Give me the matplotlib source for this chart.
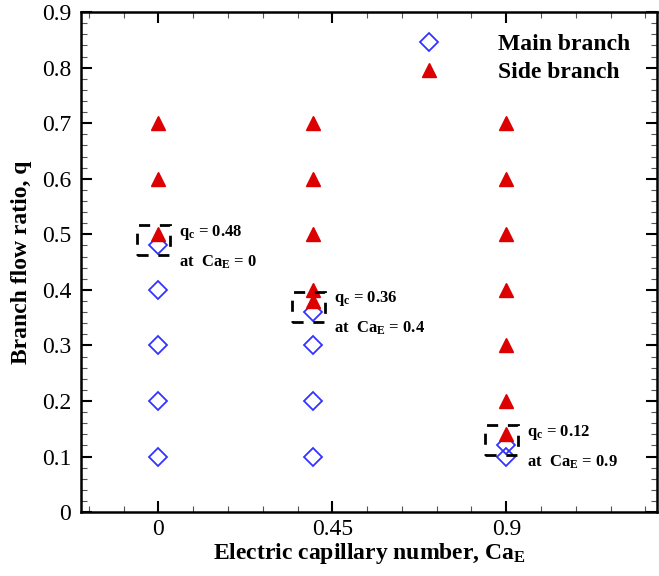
import matplotlib
matplotlib.use("Agg")
import matplotlib.pyplot as plt
from matplotlib.patches import Rectangle
from matplotlib.ticker import MultipleLocator

plt.rcParams["font.family"] = ["Liberation Serif", "DejaVu Serif"]
plt.rcParams["mathtext.fontset"] = "custom"
plt.rcParams["mathtext.rm"] = "Liberation Serif"
plt.rcParams["mathtext.bf"] = "Liberation Serif:bold"
plt.rcParams["mathtext.default"] = "bf"

# main branch (open diamonds)
main_x = [0, 0, 0, 0, 0, 0.4, 0.4, 0.4, 0.4, 0.9, 0.9]
main_q = [0.1, 0.2, 0.3, 0.4, 0.48, 0.1, 0.2, 0.3, 0.36, 0.1, 0.12]

# side branch (filled triangles)
side_x = [0, 0, 0, 0.4, 0.4, 0.4, 0.4, 0.4, 0.9, 0.9, 0.9, 0.9, 0.9, 0.9, 0.9]
side_q = [0.5, 0.6, 0.7, 0.38, 0.4, 0.5, 0.6, 0.7, 0.14, 0.2, 0.3, 0.4, 0.5, 0.6, 0.7]

# critical ratios
crit_ca = [0, 0.4, 0.9]
crit_q = [0.48, 0.36, 0.12]
crit_labels = ["0", "0.4", "0.9"]

x_ticks = [0, 0.45, 0.9]
x_ticklabels = ["0", "0.45", "0.9"]
y_ticks = [0, 0.1, 0.2, 0.3, 0.4, 0.5, 0.6, 0.7, 0.8, 0.9]
y_ticklabels = ["0", "0.1", "0.2", "0.3", "0.4", "0.5", "0.6", "0.7", "0.8", "0.9"]

fig = plt.figure(figsize=(6.59, 5.76), dpi=100)
ax = fig.add_axes([0.123, 0.111, 0.874, 0.868])

ax.plot(main_x, main_q, linestyle="none", marker="D", ms=9.5, mfc="none",
        mec="#3333ff", mew=1.3, label="Main branch", zorder=3)
ax.plot(side_x, side_q, linestyle="none", marker="^", ms=10, mfc="#dd0000",
        mec="#dd0000", label="Side branch", zorder=3)

for ca, q, lab in zip(crit_ca, crit_q, crit_labels):
    box = Rectangle((ca - 0.054, q - 0.018), 0.085, 0.054, fill=False, ec="black",
                    lw=2, linestyle=(0, (4, 3.5)), zorder=4)
    ax.add_patch(box)
    ax.text(ca + 0.054, q + 0.024, r"q$_{c}$ = %.2f" % q, fontsize=12,
            fontweight="bold", va="center")
    ax.text(ca + 0.054, q - 0.03, r"at  Ca$_{E}$ = " + lab, fontsize=12,
            fontweight="bold", va="center")

ax.set_xlim(-0.2, 1.29)
ax.set_ylim(0, 0.9)
ax.set_xticks(x_ticks)
ax.set_xticklabels(x_ticklabels)
ax.set_yticks(y_ticks)
ax.set_yticklabels(y_ticklabels)
ax.xaxis.set_minor_locator(MultipleLocator(0.09))
ax.yaxis.set_minor_locator(MultipleLocator(0.02))
ax.tick_params(which="both", direction="in", top=True, right=True, labelsize=17)
ax.tick_params(which="major", length=8, width=1.5, pad=7)
ax.tick_params(axis="x", which="major", pad=5)
ax.tick_params(which="minor", length=4, width=0.8, color="#555555")
for s in ax.spines.values():
    s.set_linewidth(1.8)

ax.set_xlabel(r"Electric capillary number, Ca$_{E}$", fontsize=17,
              fontweight="bold", labelpad=1)
ax.set_ylabel("Branch flow ratio, q", fontsize=17, fontweight="bold", labelpad=7)

ax.legend(loc="upper right", bbox_to_anchor=(0.99, 1.0), frameon=False,
          prop={"weight": "bold", "size": 17}, handletextpad=1.9,
          labelspacing=0.3)

fig.savefig("out.png", dpi=100)
